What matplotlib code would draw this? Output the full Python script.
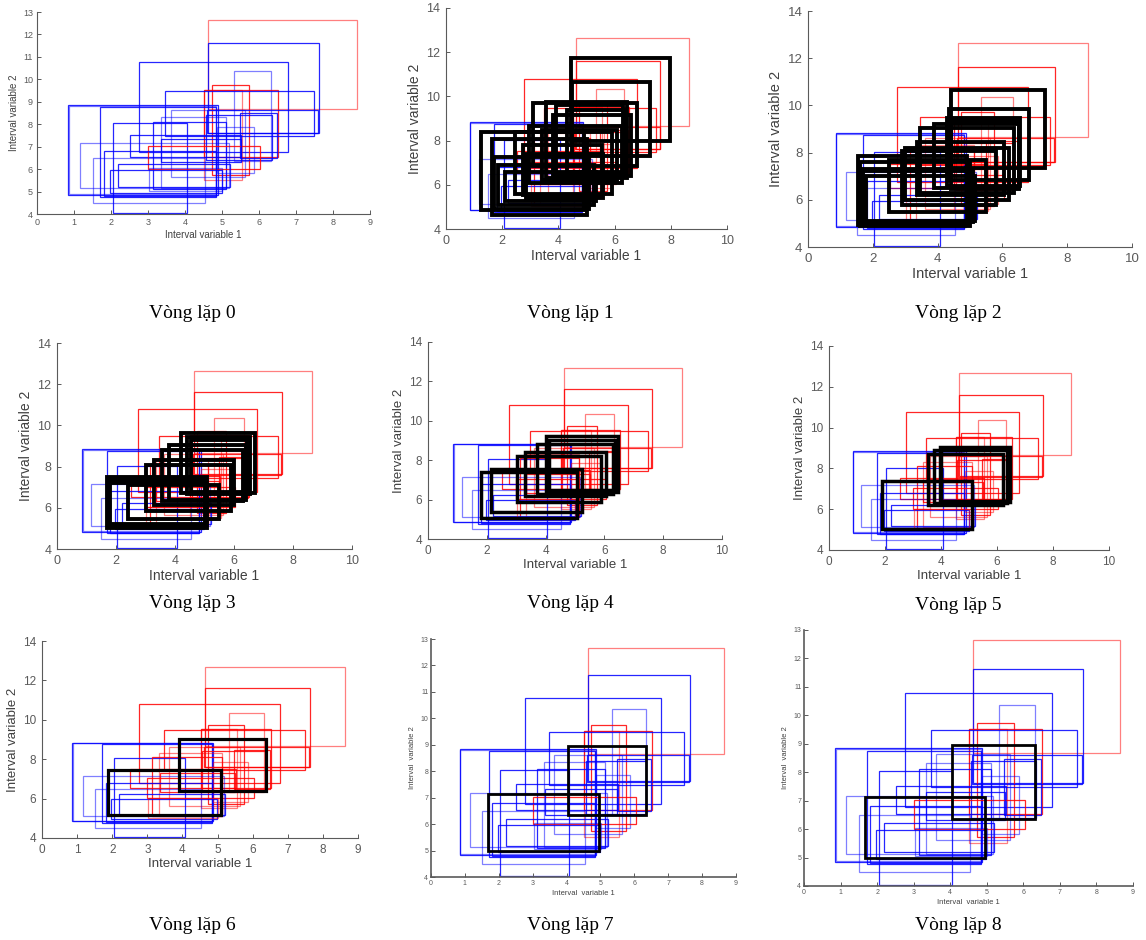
import matplotlib
matplotlib.use("Agg")
import matplotlib.pyplot as plt
from matplotlib.patches import Rectangle

# interval data: each item is [x1, x2] x [y1, y2]
rect_x1 = [4.63, 4.63, 2.76, 5.33, 4.73, 4.52, 4.52, 3.47, 0.85, 0.87, 1.71, 4.60, 3.62, 5.48,
           4.56, 3.34, 2.05, 3.14, 4.87, 2.52, 3.00, 1.16, 3.35, 1.81, 1.50, 2.20, 1.97, 3.03]
rect_x2 = [8.64, 7.63, 6.79, 6.33, 5.74, 6.52, 5.55, 7.48, 4.88, 4.83, 4.83, 7.60, 5.63, 6.49,
           6.34, 5.12, 4.06, 5.12, 5.87, 5.52, 6.04, 5.18, 5.50, 4.83, 4.54, 5.21, 4.99, 5.01]
rect_y1 = [8.66, 7.62, 6.77, 6.34, 5.74, 6.52, 5.52, 7.47, 4.84, 4.87, 4.77, 7.60, 5.63, 6.48,
           6.40, 5.14, 4.03, 5.10, 5.84, 6.52, 6.02, 5.14, 6.33, 4.80, 4.50, 5.19, 4.95, 5.04]
rect_y2 = [12.66, 11.62, 10.78, 10.35, 9.73, 9.52, 9.52, 9.49, 8.84, 8.80, 8.75, 8.62, 8.63, 8.48,
           8.40, 8.33, 8.04, 8.10, 7.86, 7.52, 7.03, 7.17, 7.32, 6.80, 6.48, 6.21, 5.96, 6.03]

# cluster colour of every item: start / end screens and middle iterations
cls_init = ['r', 'b', 'b', 'b', 'r', 'r', 'r', 'b', 'b', 'b', 'b', 'b', 'b', 'b',
            'b', 'b', 'b', 'b', 'b', 'b', 'r', 'b', 'b', 'b', 'b', 'b', 'b', 'b']
cls_mid = ['r', 'r', 'r', 'r', 'r', 'r', 'r', 'r', 'b', 'b', 'b', 'r', 'r', 'r',
           'r', 'r', 'b', 'r', 'r', 'r', 'r', 'b', 'r', 'b', 'b', 'b', 'b', 'r']

# prototypes (x1, x2, y1, y2) drawn in black at each iteration
proto_it0 = []
proto_it1 = [(4.46, 7.96, 7.97, 11.74), (4.50, 7.25, 7.30, 10.65), (3.10, 6.80, 6.85, 9.70),
             (3.55, 6.45, 6.30, 9.75), (3.90, 6.30, 6.50, 9.60), (4.30, 6.40, 6.60, 9.40),
             (3.80, 6.60, 6.40, 9.15), (2.95, 6.25, 6.10, 8.65), (2.45, 5.90, 5.60, 8.40),
             (3.40, 6.10, 6.20, 8.50), (1.25, 4.90, 4.85, 8.37), (1.65, 5.00, 4.65, 8.07),
             (2.85, 5.60, 5.40, 7.40), (1.70, 5.10, 4.90, 7.25), (1.85, 5.25, 5.10, 6.90),
             (2.10, 5.35, 5.25, 6.60), (2.75, 5.55, 5.55, 7.80)]
proto_it2 = [(4.42, 7.32, 7.34, 10.65), (4.35, 6.83, 6.85, 9.83), (4.30, 6.55, 6.60, 9.45),
             (4.40, 6.50, 6.45, 9.35), (3.45, 6.35, 6.30, 9.05), (3.90, 6.50, 6.50, 9.20),
             (3.35, 6.05, 6.20, 8.45), (2.90, 5.80, 5.80, 8.05), (2.50, 5.50, 5.50, 7.70),
             (1.55, 4.90, 4.95, 7.85), (1.60, 5.00, 4.90, 7.60), (1.65, 4.95, 5.00, 7.30),
             (1.70, 5.10, 5.05, 7.20), (1.80, 5.15, 5.10, 7.00), (3.00, 6.20, 6.00, 8.20)]
proto_it3 = [(4.20, 6.70, 6.72, 9.63), (4.40, 6.55, 6.65, 9.45), (4.55, 6.45, 6.75, 9.30),
             (3.55, 6.30, 6.35, 8.80), (3.80, 6.40, 6.40, 9.05), (3.00, 5.90, 5.85, 8.10),
             (3.30, 6.00, 6.15, 8.30), (2.40, 5.50, 5.45, 7.10), (1.70, 5.10, 5.00, 7.50),
             (1.75, 5.05, 5.10, 7.35), (1.80, 5.00, 5.20, 7.20)]
proto_it4 = [(1.81, 5.07, 5.06, 7.42), (2.15, 5.25, 5.35, 7.54), (3.04, 5.88, 5.90, 8.20),
             (3.29, 6.07, 6.19, 8.44), (3.70, 6.30, 6.30, 8.80), (4.01, 6.45, 6.41, 9.22),
             (4.10, 6.35, 6.50, 9.05)]
proto_it5 = [(1.88, 5.10, 5.05, 7.39), (3.52, 6.22, 6.19, 8.73), (3.75, 6.35, 6.30, 8.90),
             (3.95, 6.45, 6.35, 9.05), (4.00, 6.40, 6.40, 8.95)]
proto_it6 = [(1.88, 5.09, 5.15, 7.45), (3.90, 6.37, 6.38, 9.03)]
proto_it7 = [(1.68, 4.96, 4.97, 7.12), (4.05, 6.33, 6.35, 8.96)]
proto_it8 = [(1.68, 4.96, 4.97, 7.12), (4.05, 6.33, 6.35, 8.96)]

captions = ["Vòng lặp 0", "Vòng lặp 1", "Vòng lặp 2", "Vòng lặp 3", "Vòng lặp 4",
            "Vòng lặp 5", "Vòng lặp 6", "Vòng lặp 7", "Vòng lặp 8"]

W, H = 1146, 940
fig = plt.figure(figsize=(W / 100, H / 100), dpi=100)

# (left, right, top, bottom) in pixels, x max, y max, tick size, label size, black lw,
# tick pad, matlab-export style, caption centre (x, y)
panels = [
    ((37, 370, 12, 214), 9, 13, 6.5, 7, 0, 3, False, (192, 313)),
    ((446, 727, 8, 229), 10, 14, 9, 10, 2.8, 4, False, (570, 313)),
    ((808, 1132, 11, 247), 10, 14, 9.5, 10.5, 2.8, 4, False, (958, 313)),
    ((57, 352, 343, 549), 10, 14, 9, 10, 2.8, 4, False, (192, 603)),
    ((428, 722, 342, 539), 10, 14, 8.5, 9.5, 2.5, 4, False, (570, 603)),
    ((829, 1109, 346, 550), 10, 14, 8.5, 9.5, 2.5, 4, False, (958, 605)),
    ((42, 358, 641, 838), 9, 14, 8.5, 9.5, 2.3, 4, False, (192, 926)),
    ((431, 736, 639, 877), 9, 13, 5, 5.5, 2.0, 2, True, (570, 926)),
    ((804, 1133, 630, 886), 9, 13, 5, 5.5, 2.0, 2, True, (958, 926)),
]
protos_all = [proto_it0, proto_it1, proto_it2, proto_it3, proto_it4,
              proto_it5, proto_it6, proto_it7, proto_it8]
cls_all = [cls_init, cls_mid, cls_mid, cls_mid, cls_mid, cls_mid, cls_mid, cls_init, cls_init]

axis_col = "#5a5a5a"
for k, ((l, r, t, b), xmax, ymax, tsz, lsz, blw, pad, old, cap) in enumerate(panels):
    ax = fig.add_axes([l / W, 1 - b / H, (r - l) / W, (b - t) / H])
    cls = cls_all[k]
    for i in range(len(rect_x1)):
        col = "red" if cls[i] == 'r' else "blue"
        a = 0.85 if i % 3 else 0.5
        ax.add_patch(Rectangle((rect_x1[i], rect_y1[i]), rect_x2[i] - rect_x1[i],
                               rect_y2[i] - rect_y1[i], fill=False, ec=col, lw=0.9, alpha=a))
    for (x1, x2, y1, y2) in protos_all[k]:
        ax.add_patch(Rectangle((x1, y1), x2 - x1, y2 - y1, fill=False, ec="black", lw=blw))
    ax.set_xlim(0, xmax)
    ax.set_ylim(4, ymax)
    ax.set_xticks(range(0, xmax + 1, 1 if xmax == 9 else 2))
    ax.set_yticks(range(4, ymax + 1, 1 if ymax == 13 else 2))
    for s in ["top", "right"]:
        ax.spines[s].set_visible(False)
    for s in ["left", "bottom"]:
        ax.spines[s].set_color(axis_col)
        ax.spines[s].set_linewidth(1.2 if old else 0.8)
    ax.tick_params(direction="in", length=3, width=0.7, colors=axis_col, labelsize=tsz, pad=pad)
    for lab in ax.get_xticklabels() + ax.get_yticklabels():
        lab.set_fontfamily("Liberation Sans")
    ax.set_xlabel("Interval  variable 1" if old else "Interval variable 1",
                  fontsize=lsz, color="#404040", family="Liberation Sans", labelpad=2)
    ax.set_ylabel("Interval  variable 2" if old else "Interval variable 2",
                  fontsize=lsz, color="#404040", family="Liberation Sans", labelpad=3)
    fig.text(cap[0] / W, 1 - cap[1] / H, captions[k],
             ha="center", va="center", fontsize=14, family="Liberation Serif")

plt.savefig("out.png", dpi=100)
plt.close(fig)
